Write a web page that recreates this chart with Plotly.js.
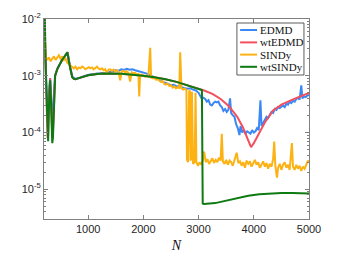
<!DOCTYPE html>
<html>
<head>
<meta charset="utf-8">
<script src="https://cdn.plot.ly/plotly-3.0.1.min.js"></script>
<style>html,body{margin:0;padding:0;background:#fff;}#chart{width:341px;height:256px;}</style>
</head>
<body>
<div id="chart"></div>
<script>
// ---- data ----
const seriesNames = ["EDMD", "wtEDMD", "SINDy", "wtSINDy"];

const edmdN = [200,215,235,255,270,290,311,325,340,355,375,400,450,500,560,610,640,680,720,780,850,900,950,1000,1050,1100,1150,1200,1250,1300,1350,1400,1450,1500,1550,1600,1650,1700,1750,1800,1850,1900,1950,2000,2050,2100,2150,2200,2250,2300,2350,2400,2450,2500,2550,2600,2650,2700,2750,2800,2850,2900,2950,3000,3030,3060,3090,3120,3150,3180,3210,3240,3270,3300,3330,3360,3390,3420,3450,3480,3510,3540,3570,3590,3620,3650,3680,3710,3740,3760,3790,3820,3850,3880,3910,3940,3970,4000,4030,4060,4090,4120,4140,4170,4200,4230,4260,4290,4320,4350,4380,4410,4440,4470,4500,4530,4560,4590,4620,4650,4680,4710,4740,4770,4800,4830,4860,4880,4910,4940,4970,5000];
const edmdErr = [1.2e-2,4e-3,1e-3,2e-4,1.2e-4,5e-4,9e-4,5e-4,1.5e-4,1.2e-4,4e-4,1.0e-3,1.4e-3,1.7e-3,2.1e-3,2.5e-3,2.2e-3,1.3e-3,9.3e-4,8.8e-4,9.2e-4,9.7e-4,1.0e-3,1.03e-3,1.06e-3,1.05e-3,1.09e-3,1.08e-3,1.12e-3,1.1e-3,1.15e-3,1.18e-3,1.2e-3,1.25e-3,1.22e-3,1.3e-3,1.27e-3,1.33e-3,1.28e-3,1.3e-3,1.25e-3,1.22e-3,1.18e-3,1.15e-3,1.1e-3,1.05e-3,1.0e-3,9.5e-4,8.9e-4,8.2e-4,7.8e-4,7.4e-4,7.2e-4,6.8e-4,6.9e-4,6.5e-4,6.6e-4,6.2e-4,6.0e-4,5.9e-4,6.0e-4,5.7e-4,5.5e-4,5.0e-4,4.4e-4,3.9e-4,4.1e-4,3.9e-4,3.5e-4,3.7e-4,3.1e-4,3.0e-4,3.3e-4,3.5e-4,3.4e-4,3.5e-4,3.0e-4,2.8e-4,2.4e-4,2.6e-4,2.3e-4,2.5e-4,4.0e-4,2.2e-4,2.0e-4,1.9e-4,1.4e-4,1.2e-4,9e-5,1.3e-4,1.0e-4,1.1e-4,9.5e-5,1.05e-4,1.0e-4,9.5e-5,1.1e-4,1.0e-4,1.05e-4,1.2e-4,1.1e-4,3.7e-4,1.3e-4,1.5e-4,1.7e-4,1.9e-4,1.8e-4,2.1e-4,2.3e-4,2.2e-4,2.6e-4,2.5e-4,2.8e-4,2.7e-4,2.9e-4,3.0e-4,2.8e-4,3.2e-4,3.1e-4,3.5e-4,3.3e-4,3.6e-4,3.5e-4,3.9e-4,4.1e-4,3.8e-4,6.8e-4,4.0e-4,4.3e-4,4.2e-4,4.5e-4,4.6e-4];

const wtEdmdN = [200,215,235,255,265,275,290,311,325,338,350,362,380,402,440,480,520,560,600,625,650,680,710,740,770,800,900,1000,1200,1400,1600,1800,2000,2200,2400,2600,2800,2950,3060,3100,3250,3400,3550,3700,3800,3880,3950,4000,4080,4200,4350,4500,4700,4850,5000];
const wtEdmdErr = [1.4e-2,5e-3,1e-3,1.5e-4,8e-5,9e-5,4e-4,9e-4,4.5e-4,1.2e-4,8e-5,1e-4,3.5e-4,1.0e-3,1.3e-3,1.6e-3,1.85e-3,2.1e-3,2.45e-3,2.6e-3,1.8e-3,1.3e-3,9.5e-4,8.8e-4,8.7e-4,8.9e-4,9.6e-4,1.02e-3,1.08e-3,1.1e-3,1.08e-3,1.05e-3,1.0e-3,9.4e-4,8.7e-4,7.8e-4,6.8e-4,6.1e-4,5.6e-4,5.5e-4,4.8e-4,3.9e-4,2.9e-4,1.9e-4,1.25e-4,8e-5,5.5e-5,6.5e-5,9e-5,1.5e-4,2.45e-4,3.1e-4,3.8e-4,4.4e-4,5e-4];

const sindyN = [200,210,220,230,260,290,320,350,380,410,440,470,500,530,560,590,620,650,680,710,740,770,800,830,860,890,920,950,980,1010,1040,1070,1100,1130,1160,1190,1220,1250,1280,1310,1340,1370,1400,1430,1460,1490,1520,1550,1580,1610,1640,1670,1700,1730,1760,1790,1820,1850,1880,1910,1925,1940,1970,2000,2030,2060,2090,2124,2140,2170,2200,2230,2260,2290,2320,2350,2380,2410,2440,2470,2500,2530,2560,2590,2620,2650,2667,2690,2720,2750,2780,2790,2810,2830,2845,2855,2870,2880,2900,2930,2945,2960,2990,3020,3050,3080,3100,3130,3160,3190,3220,3250,3280,3310,3340,3370,3400,3420,3440,3470,3500,3530,3560,3590,3620,3650,3690,3720,3750,3780,3810,3840,3870,3900,3930,3960,3990,4020,4050,4080,4110,4140,4170,4200,4230,4260,4290,4320,4350,4370,4390,4420,4440,4470,4500,4530,4560,4590,4620,4650,4690,4710,4740,4770,4800,4830,4860,4890,4920,4950,4980,5000];
const sindyErr = [1.2e-2,3.5e-3,4e-3,2.2e-3,1.9e-3,2.1e-3,1.8e-3,2.0e-3,2.2e-3,1.9e-3,2.1e-3,2.3e-3,2.0e-3,2.2e-3,1.9e-3,2.0e-3,1.7e-3,1.6e-3,1.5e-3,1.4e-3,1.35e-3,1.45e-3,1.3e-3,1.4e-3,1.35e-3,1.45e-3,1.4e-3,1.3e-3,1.38e-3,1.42e-3,1.35e-3,1.4e-3,1.3e-3,1.38e-3,1.45e-3,1.33e-3,1.3e-3,1.35e-3,1.25e-3,1.3e-3,1.1e-3,1.28e-3,1.3e-3,1.22e-3,1.28e-3,1.2e-3,1.25e-3,1.18e-3,8.3e-4,1.2e-3,1.22e-3,1.15e-3,1.2e-3,1.12e-3,7.9e-4,1.15e-3,1.1e-3,1.12e-3,1.05e-3,1.08e-3,4.3e-4,1.0e-3,1.05e-3,1.0e-3,9.6e-4,1.0e-3,9.5e-4,3.1e-3,9.3e-4,9.0e-4,9.2e-4,8.5e-4,8.8e-4,8.2e-4,7.8e-4,8.0e-4,7.2e-4,7.0e-4,7.3e-4,6.6e-4,6.8e-4,6.2e-4,6.5e-4,6.0e-4,6.3e-4,6.1e-4,2.6e-3,6.0e-4,5.7e-4,5.9e-4,5.6e-4,3.3e-5,3.0e-5,5.5e-4,5.3e-4,3.2e-5,3.5e-5,5.2e-4,2.8e-5,3.0e-5,5.0e-4,3.0e-5,2.6e-5,3.0e-5,2.7e-5,3.3e-5,4.6e-5,3.0e-5,3.4e-5,2.8e-5,3.2e-5,3.5e-5,2.9e-5,3.3e-5,3.0e-5,3.6e-5,3.2e-5,9.5e-5,3.1e-5,2.8e-5,3.3e-5,2.7e-5,3.2e-5,3.0e-5,2.6e-5,3.4e-5,4.4e-5,2.9e-5,3.1e-5,2.6e-5,3.0e-5,2.4e-5,3.2e-5,2.8e-5,3.1e-5,2.5e-5,2.9e-5,3.3e-5,2.7e-5,3.0e-5,2.4e-5,2.8e-5,3.1e-5,2.5e-5,2.9e-5,2.3e-5,2.8e-5,2.5e-5,3.4e-5,6.9e-5,2.6e-5,1.6e-5,2.4e-5,2.8e-5,2.2e-5,2.7e-5,3.0e-5,2.4e-5,2.7e-5,2.2e-5,6.5e-5,2.5e-5,2.2e-5,2.7e-5,2.3e-5,2.6e-5,2.1e-5,2.5e-5,2.3e-5,2.7e-5,3.2e-5,3.0e-5];

const wtSindyN = [200,215,235,255,265,275,290,311,325,338,350,362,380,402,440,480,520,560,600,625,650,680,710,740,770,800,900,1000,1200,1400,1600,1800,2000,2200,2400,2600,2800,2950,3060,3075,3100,3300,3500,3700,3900,4100,4300,4500,4700,5000];
const wtSindyErr = [1.5e-2,1.0e-2,1e-3,1.5e-4,7e-5,7e-5,3e-4,8.3e-4,4e-4,1e-4,6.5e-5,8e-5,3e-4,1.0e-3,1.3e-3,1.6e-3,1.85e-3,2.1e-3,2.45e-3,2.6e-3,1.8e-3,1.3e-3,9.5e-4,8.8e-4,8.7e-4,8.9e-4,9.6e-4,1.02e-3,1.08e-3,1.1e-3,1.08e-3,1.05e-3,1.0e-3,9.4e-4,8.7e-4,7.8e-4,6.8e-4,6.1e-4,5.6e-4,5.6e-6,5.5e-6,5.7e-6,6.3e-6,7.0e-6,7.7e-6,8.2e-6,8.5e-6,8.6e-6,8.6e-6,8.4e-6];

const xTicks = [1000, 2000, 3000, 4000, 5000];
const yTicks = [1e-5, 1e-4, 1e-3, 1e-2];
const yTickText = ["10<sup>-5</sup>", "10<sup>-4</sup>", "10<sup>-3</sup>", "10<sup>-2</sup>"];

// ---- styling ----
const colors = ["#3b87f5", "#f44f5f", "#fdb214", "#0d7a12"];
const xs = [edmdN, wtEdmdN, sindyN, wtSindyN];
const ys = [edmdErr, wtEdmdErr, sindyErr, wtSindyErr];

const traces = seriesNames.map((name, i) => ({
  x: xs[i], y: ys[i], name: name, type: "scatter", mode: "lines",
  line: {color: colors[i], width: 2}, showlegend: false
}));

// compact MATLAB-style legend box (paper coordinates of the plot area)
const legBox = {x0: 0.728, x1: 0.981, y0: 0.72, y1: 0.98};
const legRowY = [0.945, 0.883, 0.822, 0.761];
const shapes = [{
  type: "rect", xref: "paper", yref: "paper",
  x0: legBox.x0, x1: legBox.x1, y0: legBox.y0, y1: legBox.y1,
  fillcolor: "#ffffff", line: {color: "#333333", width: 0.8}, layer: "above"
}];
const annotations = [];
seriesNames.forEach((name, i) => {
  shapes.push({type: "line", xref: "paper", yref: "paper",
    x0: 0.740, x1: 0.804, y0: legRowY[i], y1: legRowY[i],
    line: {color: colors[i], width: 2}, layer: "above"});
  annotations.push({xref: "paper", yref: "paper", x: 0.806, y: legRowY[i],
    xanchor: "left", yanchor: "middle", showarrow: false, text: name,
    font: {family: "Liberation Serif, serif", size: 11, color: "#111"}});
});

const axisCol = "#808080";
const layout = {
  width: 341, height: 256,
  margin: {l: 44, r: 32, t: 19, b: 37},
  paper_bgcolor: "#ffffff", plot_bgcolor: "#ffffff",
  font: {family: "Liberation Sans, Arial, sans-serif", size: 11, color: "#262626"},
  showlegend: false,
  shapes: shapes,
  annotations: annotations,
  xaxis: {
    range: [200, 5000], tickmode: "array", tickvals: xTicks,
    ticks: "inside", ticklen: 4, tickcolor: axisCol, tickwidth: 1,
    showline: true, linecolor: axisCol, linewidth: 1, mirror: "ticks",
    showgrid: false, zeroline: false,
    title: {text: "<i>N</i>", font: {family: "Liberation Serif, serif", size: 14, color: "#111"}, standoff: 5}
  },
  yaxis: {
    type: "log", range: [-5.524, -2], tickmode: "array", tickvals: yTicks, ticktext: yTickText,
    ticks: "inside", ticklen: 4, tickcolor: axisCol, tickwidth: 1,
    showline: true, linecolor: axisCol, linewidth: 1, mirror: "ticks",
    showgrid: false, zeroline: false,
    minor: {ticks: "inside", ticklen: 2, tickcolor: axisCol, dtick: "D1", showgrid: false}
  }
};

Plotly.newPlot("chart", traces, layout, {displayModeBar: false, staticPlot: true});
</script>
</body>
</html>
